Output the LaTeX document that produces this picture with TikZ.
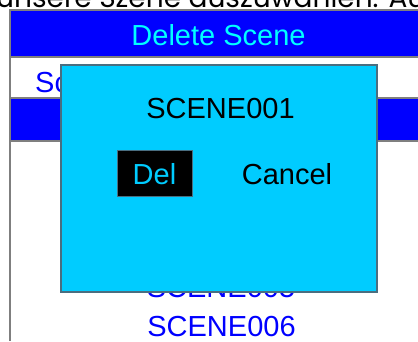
\documentclass[tikz,border=0pt]{standalone}
\usepackage{fontspec}
\setmainfont{Liberation Sans}
\newfontfamily\geofont{Poppins}
\definecolor{hdrblue}{HTML}{0000FF}
\definecolor{hdrtext}{HTML}{00FFFF}
\definecolor{dlgfill}{HTML}{00CCFF}
\definecolor{dlgline}{HTML}{4A6E80}
\definecolor{framegray}{HTML}{7F7F7F}
\tikzset{
  uitext/.style={inner sep=0pt, anchor=base, font=\fontsize{29}{32}\selectfont},
  listtext/.style={uitext, text=hdrblue},
  frameline/.style={draw=framegray, line width=1.2pt},
}
\begin{document}
\begin{tikzpicture}[x=1pt,y=-1pt]
\useasboundingbox[clip] (0,0) rectangle (418,341);
\fill[white] (0,0) rectangle (418,341);
% clipped line of running text above
\node[inner sep=0pt, anchor=base west, font=\geofont\fontsize{28}{30}\selectfont] (intro) at (-4,7.5) {unsere Szene auszuwählen. Aus};
% header bar
\fill[hdrblue] (10,10) rectangle (418,57);
\node[uitext, text=hdrtext] (title) at (218.5,45) {Delete Scene};
% selected row
\fill[hdrblue] (10,98) rectangle (418,141);
\draw[frameline] (10,57) -- (418,57);
\draw[frameline] (10,98) -- (418,98);
\draw[frameline] (10,141) -- (418,141);
\draw[frameline] (10,341) -- (10,10) -- (418,10);
% list entries
\node[listtext, anchor=base west] (row1) at (35,92) {Scene};
\node[listtext] (row5) at (221,297) {SCENE005};
\node[listtext] (row6) at (221.5,336) {SCENE006};
% dialog
\draw[fill=dlgfill, draw=dlgline, line width=1.2pt] (61,65) rectangle (377,292);
\node[uitext] (name) at (220.5,118) {SCENE001};
\draw[fill=black, draw=dlgline, line width=1pt] (117,150) rectangle (192,196);
\node[uitext, text=dlgfill] (del) at (154.5,184) {Del};
\node[uitext] (cancel) at (287,184.5) {Cancel};
\end{tikzpicture}
\end{document}
